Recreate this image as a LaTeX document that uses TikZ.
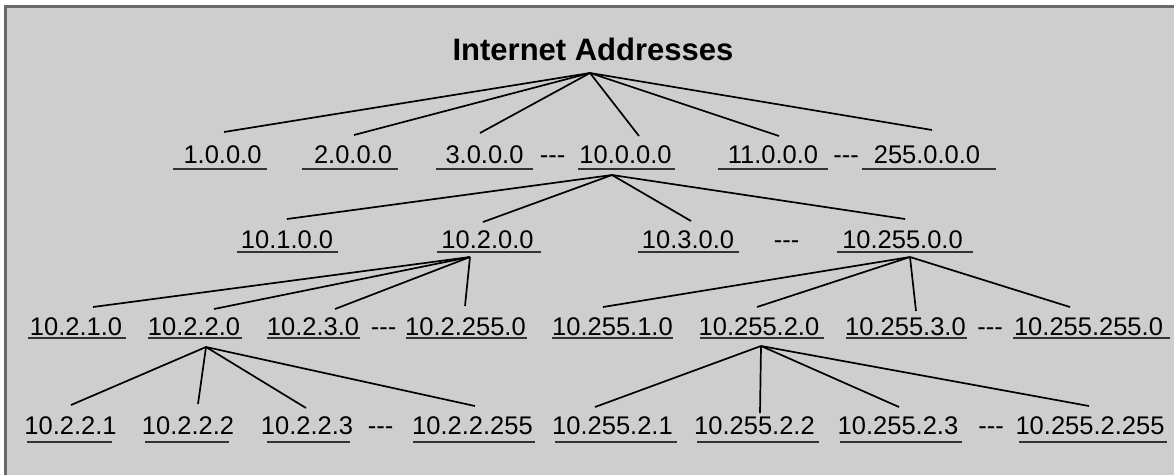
\documentclass[tikz,border=0pt]{standalone}
\usepackage{fontspec}
\setmainfont{Liberation Sans}
\definecolor{bgc}{RGB}{206,206,206}
\definecolor{bordc}{RGB}{105,105,105}
\definecolor{ulc}{RGB}{50,50,50}
\newcommand\ulab[7]{\node[lbl] (#1) at (#2,#3) {#4}; \draw[uline] (#5,#6) -- (#7,#6);}
\newcommand\dashes{-\kern0pt-\kern0pt-}
\begin{document}
\begin{tikzpicture}[x=1pt,y=-1pt,
  lbl/.style={anchor=base,inner sep=0pt,text=black,font=\fontsize{25.5}{30}\selectfont},
  ttl/.style={anchor=base,inner sep=0pt,text=black,font=\fontsize{31}{36}\selectfont\bfseries},
  uline/.style={line width=2pt,draw=ulc},
  conn/.style={line width=1.7pt,draw=black}]
\useasboundingbox (0,0) rectangle (1174,475);
\fill[white] (0,0) rectangle (1174,475);
\fill[bgc] (4,5) rectangle (1174,475);
\draw[line width=3pt,bordc] (5,475) -- (5,6) -- (1174,6);

% title
\node[ttl] (title) at (593,60) {Internet Addresses};

% row 1
\ulab{a1}{222.5}{163}{1.0.0.0}{173}{168.5}{267}
\ulab{a2}{353}{163}{2.0.0.0}{302}{168.5}{398}
\ulab{a3}{484.5}{163}{3.0.0.0}{436}{168.5}{533}
\node[lbl] (d1) at (552.5,163) {\dashes};
\ulab{a10}{625.5}{163}{10.0.0.0}{578}{168.5}{675}
\ulab{a11}{773}{163}{11.0.0.0}{718}{168.5}{828}
\node[lbl] (d2) at (846,163) {\dashes};
\ulab{a255}{927}{163}{255.0.0.0}{862}{168.5}{996}

% row 2
\ulab{b1}{287}{248}{10.1.0.0}{237}{251.5}{338}
\ulab{b2}{487.5}{248}{10.2.0.0}{437}{251.5}{541}
\ulab{b3}{688}{248}{10.3.0.0}{638}{251.5}{739}
\node[lbl] (d3) at (786.5,248) {\dashes};
\ulab{b255}{902.5}{248}{10.255.0.0}{837}{251.5}{973}

% row 3
\ulab{c1}{76}{335}{10.2.1.0}{28}{338}{126}
\ulab{c2}{194}{335}{10.2.2.0}{148}{338}{242}
\ulab{c3}{313}{335}{10.2.3.0}{267}{338}{360}
\node[lbl] (d4) at (383.5,335) {\dashes};
\ulab{c255}{465.5}{335}{10.2.255.0}{406}{338}{527}
\ulab{e1}{612.5}{335}{10.255.1.0}{552}{338}{673}
\ulab{e2}{759}{335}{10.255.2.0}{700}{338}{824}
\ulab{e3}{905.5}{335}{10.255.3.0}{846}{338}{967}
\node[lbl] (d5) at (990,335) {\dashes};
\ulab{e255}{1088.5}{335}{10.255.255.0}{1013}{338}{1170}

% row 4
\ulab{g1}{70.5}{434}{10.2.2.1}{27}{442}{112}
\ulab{g2}{188}{434}{10.2.2.2}{145}{442}{229}
\ulab{g3}{307}{434}{10.2.2.3}{267}{442}{350}
\node[lbl] (d6) at (380.5,434) {\dashes};
\ulab{g255}{472.5}{434}{10.2.2.255}{413}{442}{535}
\ulab{h1}{612.5}{434}{10.255.2.1}{555}{442}{677}
\ulab{h2}{754.5}{434}{10.255.2.2}{697}{442}{819}
\ulab{h3}{898}{434}{10.255.2.3}{840}{442}{962}
\node[lbl] (d7) at (991,434) {\dashes};
\ulab{h255}{1090}{434}{10.255.2.255}{1019}{442}{1167}

% fan points
\coordinate (f-title) at (590,73);
\coordinate (f-a10) at (612,175);
\coordinate (f-b2) at (470,257);
\coordinate (f-b255) at (910,257);
\coordinate (f-c2) at (206,347);
\coordinate (f-e2) at (761,346);

% connector ends
\coordinate (t-a1) at (224,132);
\coordinate (t-a2) at (354,135);
\coordinate (t-a3) at (480,133);
\coordinate (t-a10) at (639,136);
\coordinate (t-a11) at (779,136);
\coordinate (t-a255) at (932,130);
\coordinate (t-b1) at (287,219);
\coordinate (t-b2) at (483,222);
\coordinate (t-b3) at (691,221);
\coordinate (t-b255) at (905,219);
\coordinate (t-c1) at (93,307);
\coordinate (t-c2) at (214,309);
\coordinate (t-c3) at (335,309);
\coordinate (t-c255) at (465,306);
\coordinate (t-e1) at (603,307);
\coordinate (t-e2) at (757,307);
\coordinate (t-e3) at (916,311);
\coordinate (t-e255) at (1070,307);
\coordinate (t-g1) at (71,405);
\coordinate (t-g2) at (198,404);
\coordinate (t-g3) at (306,408);
\coordinate (t-g255) at (475,406);
\coordinate (t-h1) at (595,407);
\coordinate (t-h2) at (760,413);
\coordinate (t-h3) at (899,407);
\coordinate (t-h255) at (1089,406);

\foreach \e in {a1,a2,a3,a10,a11,a255} \draw[conn] (f-title) -- (t-\e);
\foreach \e in {b1,b2,b3,b255} \draw[conn] (f-a10) -- (t-\e);
\foreach \e in {c1,c2,c3,c255} \draw[conn] (f-b2) -- (t-\e);
\foreach \e in {e1,e2,e3,e255} \draw[conn] (f-b255) -- (t-\e);
\foreach \e in {g1,g2,g3,g255} \draw[conn] (f-c2) -- (t-\e);
\foreach \e in {h1,h2,h3,h255} \draw[conn] (f-e2) -- (t-\e);
\end{tikzpicture}
\end{document}
